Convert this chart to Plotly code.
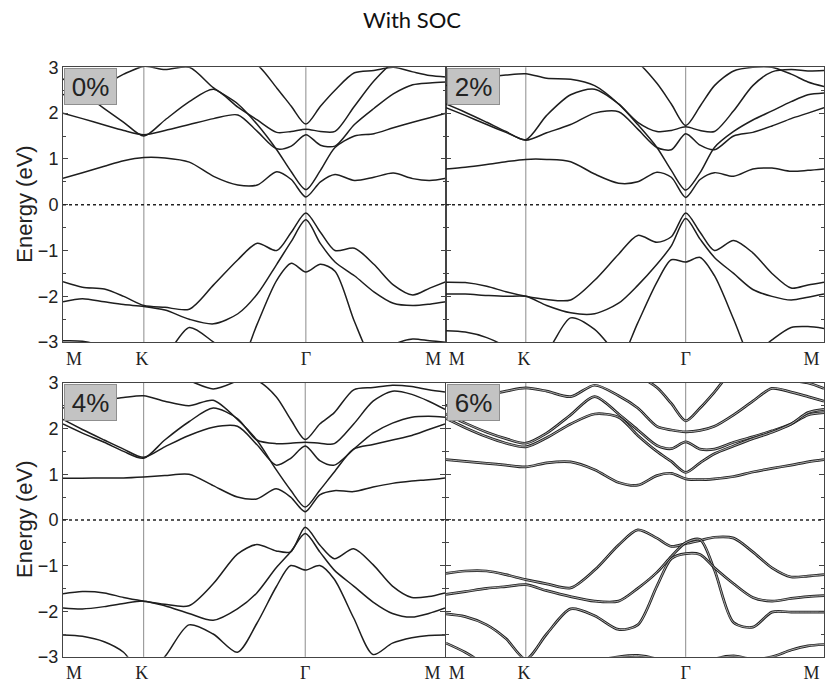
import plotly.graph_objects as go

# ---------------- data ----------------
# k-path sampling (M=0, K=1/3, Gamma=1, M=1.577)
K_PTS = [0, 0.08, 0.17, 0.25, 0.333, 0.42, 0.52, 0.62, 0.72, 0.80, 0.88, 0.94,
         1.0, 1.06, 1.12, 1.20, 1.28, 1.36, 1.44, 1.51, 1.577]
K_LINES = [0.333, 1.0]                      # K and Gamma
K_LABEL_POS = [0.045, 0.325, 1.0, 1.525]
K_LABELS = ["M", "K", "Γ", "M"]
STRAINS = ["0%", "2%", "4%", "6%"]
Y_TICKS = [-3, -2, -1, 0, 1, 2, 3]

# 0 % strain
c1_0 = [0.58, 0.70, 0.84, 0.96, 1.03, 1.02, 0.93, 0.62, 0.43, 0.43, 0.72, 0.55, 0.17, 0.50, 0.66, 0.53, 0.60, 0.69, 0.57, 0.53, 0.58]
c2_0 = [2.4, 2.5, 2.62, 2.85, 3.02, 2.95, 3.0, 2.55, 2.2, 1.75, 1.2, 0.72, 0.33, 0.75, 1.25, 1.5, 1.55, 1.68, 1.8, 1.9, 2.0]
c3_0 = [2.0, 1.88, 1.74, 1.62, 1.53, 1.62, 1.75, 1.88, 1.96, 1.6, 1.22, 1.28, 1.53, 1.3, 1.28, 1.75, 2.1, 2.42, 2.62, 2.66, 2.68]
c4_0 = [2.75, 2.45, 2.1, 1.8, 1.5, 1.85, 2.25, 2.52, 2.13, 1.85, 1.58, 1.6, 1.65, 1.6, 1.6, 2.15, 2.7, 3.1, 3.2, 3.3, 3.4]
c5_0 = [3.6, 3.6, 3.5, 3.4, 3.3, 3.3, 3.3, 3.3, 3.2, 3.05, 2.55, 2.15, 1.76, 2.15, 2.5, 2.88, 2.93, 3.0, 2.9, 2.82, 2.79]
v1_0 = [-1.68, -1.8, -1.84, -2.0, -2.2, -2.24, -2.28, -1.75, -1.2, -0.84, -1.0, -0.6, -0.18, -0.6, -1.0, -0.95, -1.3, -1.75, -1.97, -1.82, -1.68]
v2_0 = [-2.12, -2.05, -2.12, -2.18, -2.22, -2.3, -2.5, -2.6, -2.38, -1.95, -1.3, -0.8, -0.33, -0.85, -1.25, -1.55, -1.9, -2.15, -2.2, -2.17, -2.12]
v3_0 = [-4, -4, -4, -4, -4, -4, -4, -4, -3.6, -2.6, -1.65, -1.28, -1.47, -1.3, -1.45, -2.55, -3.5, -4, -4, -4, -4]
v4_0 = [-2.97, -2.98, -3.1, -3.3, -3.5, -3.3, -2.68, -3.0, -3.4, -3.6, -3.8, -3.9, -4, -3.9, -3.8, -3.6, -3.3, -3.05, -2.93, -2.97, -3.0]

# 2 % strain
c1_2 = [0.78, 0.82, 0.88, 0.94, 0.99, 0.99, 0.94, 0.67, 0.47, 0.5, 0.71, 0.6, 0.16, 0.55, 0.7, 0.62, 0.78, 0.8, 0.73, 0.75, 0.78]
c2_2 = [2.6, 2.7, 2.78, 2.83, 2.86, 2.76, 2.74, 2.6, 2.2, 1.75, 1.25, 0.75, 0.32, 0.7, 1.25, 1.6, 1.85, 2.05, 2.25, 2.4, 2.44]
c3_2 = [2.12, 1.95, 1.75, 1.58, 1.41, 1.57, 1.75, 2.0, 2.03, 1.65, 1.25, 1.2, 1.55, 1.3, 1.2, 1.5, 1.58, 1.72, 1.88, 2.0, 2.12]
c4_2 = [2.2, 2.02, 1.8, 1.6, 1.42, 1.95, 2.4, 2.52, 2.2, 1.8, 1.6, 1.62, 1.7, 1.62, 1.6, 2.05, 2.6, 2.9, 2.95, 2.92, 2.93]
c5_2 = [3.6, 3.6, 3.5, 3.5, 3.4, 3.4, 3.3, 3.3, 3.3, 3.1, 2.65, 2.2, 1.73, 2.15, 2.6, 2.92, 3.0, 3.0, 2.85, 2.68, 2.58]
v1_2 = [-1.69, -1.7, -1.78, -1.9, -2.0, -2.07, -2.08, -1.65, -1.08, -0.67, -0.82, -0.7, -0.18, -0.6, -1.0, -0.78, -1.05, -1.5, -1.82, -1.75, -1.69]
v2_2 = [-1.95, -1.95, -1.98, -2.0, -2.0, -2.2, -2.36, -2.38, -2.15, -1.76, -1.3, -0.9, -0.3, -0.75, -1.15, -1.5, -1.85, -2.0, -2.08, -2.02, -1.95]
v3_2 = [-4, -4, -4, -4, -4, -4, -4, -4, -3.5, -2.58, -1.69, -1.2, -1.25, -1.15, -1.55, -2.5, -3.5, -4, -4, -4, -4]
v4_2 = [-2.75, -2.78, -2.9, -3.1, -3.4, -3.2, -2.47, -2.72, -3.3, -3.6, -3.8, -3.9, -4, -3.9, -3.8, -3.6, -3.3, -2.95, -2.68, -2.66, -2.7]

# 4 % strain
c1_4 = [0.91, 0.91, 0.92, 0.92, 0.94, 0.97, 1.0, 0.75, 0.5, 0.46, 0.68, 0.5, 0.18, 0.55, 0.64, 0.62, 0.72, 0.8, 0.85, 0.88, 0.92]
c2_4 = [2.45, 2.55, 2.62, 2.68, 2.72, 2.6, 2.5, 2.62, 2.2, 1.75, 1.1, 0.65, 0.28, 0.65, 1.05, 1.55, 1.65, 1.75, 1.85, 1.98, 2.1]
c3_4 = [2.2, 1.98, 1.75, 1.55, 1.37, 1.6, 1.85, 2.03, 2.05, 1.65, 1.2, 1.35, 1.62, 1.3, 1.2, 1.55, 1.9, 2.12, 2.25, 2.27, 2.25]
c4_4 = [2.1, 1.9, 1.7, 1.5, 1.35, 1.75, 2.15, 2.45, 2.22, 1.75, 1.67, 1.68, 1.7, 1.68, 1.67, 2.1, 2.6, 2.82, 2.75, 2.6, 2.42]
c5_4 = [3.5, 3.5, 3.5, 3.5, 3.4, 3.3, 3.2, 3.1, 3.05, 3.05, 2.7, 2.2, 1.76, 2.1, 2.35, 2.85, 2.9, 2.95, 2.92, 2.85, 2.8]
c6_4 = [3.6, 3.6, 3.5, 3.4, 3.3, 3.2, 3.05, 2.87, 3.05, 3.3, 3.5, 3.6, 3.6, 3.6, 3.6, 3.6, 3.6, 3.6, 3.6, 3.6, 3.6]
v1_4 = [-1.62, -1.57, -1.6, -1.7, -1.78, -1.85, -1.88, -1.4, -0.75, -0.54, -0.68, -0.7, -0.16, -0.55, -0.85, -0.63, -0.98, -1.45, -1.7, -1.68, -1.6]
v2_4 = [-1.93, -1.95, -1.9, -1.83, -1.78, -1.88, -2.05, -2.2, -1.95, -1.6, -1.05, -0.7, -0.3, -0.7, -1.1, -1.45, -1.8, -2.05, -2.13, -2.05, -1.93]
v3_4 = [-2.52, -2.55, -2.67, -2.9, -3.4, -3.0, -2.3, -2.5, -2.9, -2.27, -1.47, -1.0, -1.1, -1.0, -1.3, -2.15, -2.95, -2.7, -2.58, -2.53, -2.52]

# 6 % strain (spin-split, drawn as doubled lines)
c1_6 = [1.32, 1.28, 1.24, 1.2, 1.16, 1.25, 1.27, 1.1, 0.82, 0.76, 0.97, 1.02, 0.9, 0.88, 0.9, 0.95, 1.05, 1.13, 1.2, 1.27, 1.32]
c2_6 = [2.5, 2.62, 2.73, 2.82, 2.89, 2.82, 2.7, 2.95, 2.72, 2.45, 2.05, 1.97, 1.93, 1.96, 2.05, 2.3, 2.6, 2.88, 2.8, 2.7, 2.6]
c3_6 = [2.32, 2.12, 1.92, 1.78, 1.68, 1.9, 2.3, 2.7, 2.32, 1.97, 1.63, 1.56, 1.71, 1.55, 1.55, 1.7, 1.82, 1.95, 2.1, 2.3, 2.35]
c4_6 = [2.22, 2.02, 1.82, 1.68, 1.6, 1.8, 2.1, 2.32, 2.25, 1.85, 1.5, 1.28, 1.04, 1.25, 1.45, 1.62, 1.78, 1.92, 2.1, 2.35, 2.42]
c5_6 = [3.6, 3.6, 3.5, 3.5, 3.4, 3.4, 3.4, 3.4, 3.3, 3.15, 2.9, 2.55, 2.17, 2.45, 2.8, 3.3, 3.5, 3.6, 3.6, 3.6, 3.6]
c6_6 = [3.6, 3.6, 3.5, 3.5, 3.4, 3.4, 3.3, 3.3, 3.3, 3.3, 3.3, 3.3, 3.3, 3.3, 3.3, 3.3, 3.2, 3.1, 3.05, 3.0, 2.88]
v1_6 = [-1.17, -1.12, -1.12, -1.2, -1.31, -1.4, -1.49, -1.1, -0.55, -0.22, -0.4, -0.58, -0.52, -0.45, -0.38, -0.4, -0.7, -1.05, -1.25, -1.23, -1.2]
v2_6 = [-1.63, -1.57, -1.5, -1.46, -1.42, -1.55, -1.68, -1.78, -1.78, -1.5, -1.15, -0.8, -0.5, -0.43, -1.1, -2.25, -2.35, -2.02, -2.02, -2.02, -2.02]
v3_6 = [-2.06, -2.12, -2.3, -2.6, -3.05, -2.5, -1.95, -2.1, -2.4, -2.3, -1.45, -0.85, -0.74, -0.76, -1.05, -1.4, -1.7, -1.78, -1.72, -1.68, -1.66]
v4_6 = [-2.7, -2.9, -3.2, -3.5, -3.6, -3.5, -3.3, -3.1, -3.0, -2.97, -3.05, -3.2, -3.3, -3.2, -3.05, -2.98, -3.05, -3.0, -2.85, -2.76, -2.73]

PANEL_BANDS = [
    [c1_0, c2_0, c3_0, c4_0, c5_0, v1_0, v2_0, v3_0, v4_0],
    [c1_2, c2_2, c3_2, c4_2, c5_2, v1_2, v2_2, v3_2, v4_2],
    [c1_4, c2_4, c3_4, c4_4, c5_4, c6_4, v1_4, v2_4, v3_4],
    [c1_6, c2_6, c3_6, c4_6, c5_6, c6_6, v1_6, v2_6, v3_6, v4_6],
]
DOUBLED = [False, False, False, True]

# ---------------- layout geometry (pixels) ----------------
W, H = 825, 695
X_DOMS = [(63, 446), (446, 824), (63, 445), (446, 824)]
Y_DOMS = [(59, 342), (59, 342), (384, 666), (384, 666)]

fig = go.Figure()
layout = dict(width=W, height=H, margin=dict(l=0, r=0, t=0, b=0),
              paper_bgcolor="white", plot_bgcolor="white", showlegend=False)
shapes, annotations = [], []

for i in range(4):
    n = i + 1
    suf = "" if n == 1 else str(n)
    xa, ya = "x" + suf, "y" + suf
    for band in PANEL_BANDS[i]:
        if DOUBLED[i]:
            fig.add_trace(go.Scatter(
                x=K_PTS, y=band, xaxis=xa, yaxis=ya, mode="lines",
                line=dict(color="#222222", width=2.7, shape="spline",
                          smoothing=0.8),
                hoverinfo="skip", showlegend=False))
            fig.add_trace(go.Scatter(
                x=K_PTS, y=band, xaxis=xa, yaxis=ya, mode="lines",
                line=dict(color="#cfcfcf", width=0.8, shape="spline",
                          smoothing=0.8),
                hoverinfo="skip", showlegend=False))
        else:
            fig.add_trace(go.Scatter(
                x=K_PTS, y=band, xaxis=xa, yaxis=ya, mode="lines",
                line=dict(color="#1e1e1e", width=1.5, shape="spline",
                          smoothing=0.8),
                hoverinfo="skip", showlegend=False))
    x0, x1 = X_DOMS[i]
    y0, y1 = Y_DOMS[i]
    layout["xaxis" + suf] = dict(
        domain=[x0 / W, x1 / W], anchor=ya, range=[0, K_PTS[-1]],
        tickmode="array", tickvals=K_LABEL_POS, ticktext=K_LABELS, ticks="",
        tickfont=dict(family="Liberation Serif", size=18, color="#222"),
        showgrid=False, zeroline=False, showline=True, linecolor="#444",
        linewidth=1, mirror=True, fixedrange=True)
    layout["yaxis" + suf] = dict(
        domain=[1 - y1 / H, 1 - y0 / H], anchor=xa, range=[-3, 3],
        tickmode="array", tickvals=Y_TICKS, ticks="inside", ticklen=5,
        tickcolor="#444", minor=dict(ticks="inside", ticklen=3, dtick=0.5,
                                     tickcolor="#444"),
        showticklabels=(i % 2 == 0),
        tickfont=dict(family="Arial", size=18, color="#222"),
        showgrid=False, zeroline=False, showline=True, linecolor="#444",
        linewidth=1, mirror="ticks", fixedrange=True)
    for kx in K_LINES:
        shapes.append(dict(type="line", xref=xa, yref=f"{ya} domain",
                           x0=kx, x1=kx, y0=0, y1=1, layer="below",
                           line=dict(color="#8c8c8c", width=1)))
    shapes.append(dict(type="line", xref=f"{xa} domain", yref=ya,
                       x0=0, x1=1, y0=0, y1=0,
                       line=dict(color="#222", width=1.5, dash="dot")))
    annotations.append(dict(
        text=STRAINS[i], xref=f"{xa} domain", yref=f"{ya} domain",
        x=0.002, y=0.997, xanchor="left", yanchor="top", showarrow=False,
        font=dict(family="Arial", size=26, color="#222"),
        bgcolor="#c3c3c3", bordercolor="#8f8f8f", borderwidth=1, borderpad=1,
        width=49, height=33, align="center"))
    if i % 2 == 0:
        annotations.append(dict(
            text="Energy (eV)", xref="paper", yref="paper",
            x=25 / W, y=1 - ((y0 + y1) / 2) / H, textangle=-90,
            showarrow=False, xanchor="center", yanchor="middle",
            font=dict(family="Arial", size=22, color="#222")))

annotations.append(dict(
    text="With SOC", xref="paper", yref="paper", x=412 / W, y=1 - 10 / H,
    xanchor="center", yanchor="middle", showarrow=False,
    font=dict(family="Lato", size=22, color="#111")))

layout["shapes"] = shapes
layout["annotations"] = annotations
fig.update_layout(**layout)
fig.write_html("out.html")
